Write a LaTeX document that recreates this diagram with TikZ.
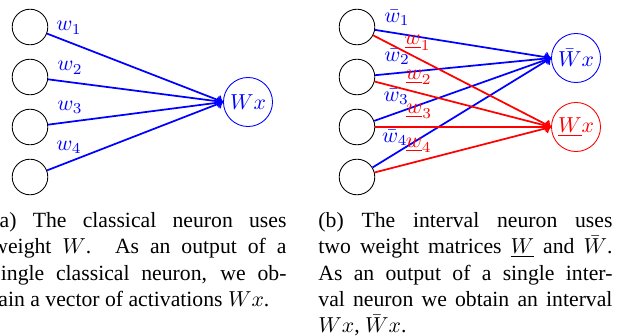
\documentclass[tikz,border=0pt]{standalone}
\usepackage[no-math]{fontspec}
\setmainfont{Liberation Serif}
\usepackage{amsmath}
\usepackage{amssymb}
\usetikzlibrary{arrows}

\begin{document}
\begin{tikzpicture}[x=0.4608pt, y=-0.4608pt,
    neuron/.style={draw, circle, thin, minimum size=16.4pt, inner sep=0pt},
    outneuron/.style={draw, circle, thin, minimum size=22.6pt, inner sep=0pt},
    weight/.style={->, thick},
    caption/.style={text width=135.5pt, align=justify, inner sep=0pt, font=\fontsize{10}{12.1}\selectfont}]
    \useasboundingbox (0,0) rectangle (618,336);
    \clip (0,0) rectangle (618,336);

    % classical neuron
    \foreach \i in {1,...,4}
        \node[neuron] (in\i) at (30, 50*\i-23) {};
    \node[outneuron, blue] (wx) at (248,102) {$Wx$};
    \foreach \i in {1,...,4}
        \draw[weight, blue] (in\i) -- node[very near start, above] {$w_\i$} (wx.west);

    % interval neuron
    \foreach \i in {1,...,4}
        \node[neuron] (iv\i) at (357, 50*\i-23) {};
    \node[outneuron, blue] (upper) at (576,58) {$\bar{W}x$};
    \node[outneuron, red] (lower) at (576,127) {$\underline{W}x$};
    \foreach \i in {1,...,4}
        \draw[weight, blue] (iv\i) -- node[very near start, above] {$\bar{w}_\i$} (upper.west);
    \foreach \i in {1,...,4}
        \draw[weight, red] (iv\i) -- node[near start, above] {$\underline{w}_\i$} (lower.west);

    % captions
    \node[caption, anchor=north west] (capa) at (-8,212) {(a) The classical neuron uses\linebreak
        weight $W$. As an output of a\linebreak single classical neuron, we ob-\linebreak
        tain a vector of activations $Wx$.};
    \node[caption, anchor=north west] (capb) at (318,212) {(b) The interval neuron uses\linebreak
        two weight matrices $\underline{W}$ and $\bar{W}$.\linebreak As an output of a single inter-\linebreak
        val neuron we obtain an interval\linebreak $Wx$, $\bar{W}x$.};
\end{tikzpicture}
\end{document}
